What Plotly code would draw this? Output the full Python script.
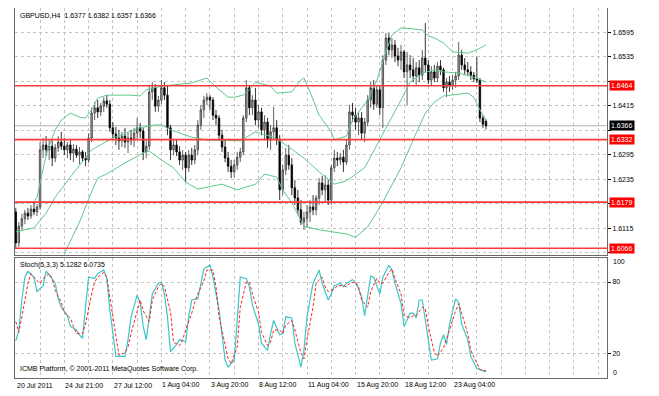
import plotly.graph_objects as go

# ---------------- data (GBPUSD H4) ----------------
open_ = [
    1.6155, 1.6079, 1.6120, 1.6138, 1.6152, 1.6145, 1.6162, 1.6155, 1.6167, 1.6307,
    1.6319, 1.6307, 1.6316, 1.6287, 1.6312, 1.6326, 1.6316, 1.6307, 1.6319, 1.6299,
    1.6309, 1.6294, 1.6302, 1.6287, 1.6282, 1.6336, 1.6397, 1.6410, 1.6400, 1.6414,
    1.6427, 1.6419, 1.6361, 1.6346, 1.6336, 1.6329, 1.6341, 1.6326, 1.6336, 1.6331,
    1.6348, 1.6361, 1.6353, 1.6302, 1.6316, 1.6449, 1.6459, 1.6414, 1.6429, 1.6459,
    1.6441, 1.6361, 1.6307, 1.6319, 1.6302, 1.6282, 1.6294, 1.6263, 1.6294, 1.6282,
    1.6307, 1.6368, 1.6405, 1.6429, 1.6436, 1.6429, 1.6392, 1.6385, 1.6343, 1.6314,
    1.6287, 1.6267, 1.6253, 1.6270, 1.6289, 1.6302, 1.6385, 1.6459, 1.6410, 1.6429,
    1.6380, 1.6400, 1.6356, 1.6375, 1.6331, 1.6351, 1.6361, 1.6331, 1.6209, 1.6258,
    1.6294, 1.6270, 1.6214, 1.6189, 1.6160, 1.6130, 1.6140, 1.6155, 1.6167, 1.6160,
    1.6189, 1.6226, 1.6209, 1.6221, 1.6184, 1.6263, 1.6287, 1.6282, 1.6289, 1.6277,
    1.6319, 1.6400, 1.6392, 1.6375, 1.6385, 1.6348, 1.6375, 1.6429, 1.6459, 1.6419,
    1.6454, 1.6410, 1.6527, 1.6581, 1.6552, 1.6564, 1.6537, 1.6527, 1.6547, 1.6498,
    1.6515, 1.6503, 1.6488, 1.6508, 1.6490, 1.6532, 1.6515, 1.6478, 1.6498, 1.6483,
    1.6512, 1.6503, 1.6459, 1.6473, 1.6466, 1.6478, 1.6488, 1.6539, 1.6515, 1.6503,
    1.6498, 1.6490, 1.6481, 1.6478, 1.6385, 1.6377,
]
high = [
    1.6165, 1.6130, 1.6150, 1.6160, 1.6165, 1.6172, 1.6177, 1.6174, 1.6326, 1.6336,
    1.6341, 1.6331, 1.6331, 1.6321, 1.6341, 1.6351, 1.6336, 1.6326, 1.6331, 1.6321,
    1.6319, 1.6314, 1.6307, 1.6302, 1.6348, 1.6410, 1.6424, 1.6429, 1.6422, 1.6436,
    1.6441, 1.6429, 1.6375, 1.6363, 1.6356, 1.6351, 1.6361, 1.6348, 1.6356, 1.6361,
    1.6385, 1.6373, 1.6361, 1.6331, 1.6466, 1.6473, 1.6468, 1.6439, 1.6478, 1.6473,
    1.6466, 1.6368, 1.6331, 1.6331, 1.6316, 1.6307, 1.6302, 1.6307, 1.6312, 1.6319,
    1.6380, 1.6417, 1.6439, 1.6446, 1.6441, 1.6436, 1.6405, 1.6392, 1.6356, 1.6331,
    1.6302, 1.6282, 1.6282, 1.6302, 1.6312, 1.6392, 1.6478, 1.6466, 1.6441, 1.6459,
    1.6417, 1.6410, 1.6392, 1.6385, 1.6368, 1.6412, 1.6380, 1.6343, 1.6270, 1.6312,
    1.6319, 1.6287, 1.6233, 1.6209, 1.6184, 1.6155, 1.6172, 1.6184, 1.6196, 1.6196,
    1.6238, 1.6243, 1.6245, 1.6233, 1.6270, 1.6307, 1.6302, 1.6299, 1.6307, 1.6331,
    1.6417, 1.6422, 1.6410, 1.6400, 1.6400, 1.6385, 1.6441, 1.6473, 1.6478, 1.6466,
    1.6466, 1.6539, 1.6593, 1.6593, 1.6581, 1.6576, 1.6557, 1.6564, 1.6552, 1.6547,
    1.6539, 1.6532, 1.6522, 1.6527, 1.6552, 1.6618, 1.6527, 1.6512, 1.6515, 1.6522,
    1.6527, 1.6508, 1.6483, 1.6488, 1.6490, 1.6498, 1.6571, 1.6552, 1.6532, 1.6522,
    1.6512, 1.6498, 1.6534, 1.6483, 1.6392, 1.6382,
]
low = [
    1.6067, 1.6069, 1.6111, 1.6125, 1.6135, 1.6138, 1.6147, 1.6145, 1.6160, 1.6287,
    1.6292, 1.6282, 1.6267, 1.6277, 1.6302, 1.6307, 1.6294, 1.6287, 1.6282, 1.6277,
    1.6287, 1.6272, 1.6277, 1.6267, 1.6275, 1.6326, 1.6380, 1.6385, 1.6390, 1.6400,
    1.6410, 1.6351, 1.6331, 1.6319, 1.6307, 1.6314, 1.6312, 1.6299, 1.6319, 1.6314,
    1.6331, 1.6336, 1.6282, 1.6287, 1.6307, 1.6429, 1.6400, 1.6400, 1.6419, 1.6429,
    1.6343, 1.6282, 1.6294, 1.6292, 1.6270, 1.6258, 1.6228, 1.6253, 1.6270, 1.6272,
    1.6294, 1.6356, 1.6385, 1.6417, 1.6405, 1.6380, 1.6368, 1.6331, 1.6302, 1.6277,
    1.6253, 1.6238, 1.6240, 1.6258, 1.6277, 1.6294, 1.6375, 1.6392, 1.6392, 1.6368,
    1.6361, 1.6343, 1.6331, 1.6312, 1.6307, 1.6331, 1.6319, 1.6184, 1.6196, 1.6245,
    1.6258, 1.6196, 1.6172, 1.6147, 1.6123, 1.6111, 1.6116, 1.6130, 1.6147, 1.6147,
    1.6172, 1.6196, 1.6179, 1.6172, 1.6172, 1.6253, 1.6267, 1.6270, 1.6253, 1.6270,
    1.6307, 1.6375, 1.6356, 1.6343, 1.6331, 1.6326, 1.6365, 1.6410, 1.6405, 1.6410,
    1.6392, 1.6361, 1.6515, 1.6539, 1.6532, 1.6522, 1.6512, 1.6503, 1.6483, 1.6417,
    1.6483, 1.6473, 1.6466, 1.6473, 1.6478, 1.6498, 1.6468, 1.6463, 1.6473, 1.6473,
    1.6490, 1.6449, 1.6436, 1.6449, 1.6454, 1.6459, 1.6478, 1.6503, 1.6490, 1.6488,
    1.6478, 1.6473, 1.6471, 1.6375, 1.6361, 1.6357,
]
close = [
    1.6079, 1.6120, 1.6138, 1.6152, 1.6145, 1.6162, 1.6155, 1.6167, 1.6307, 1.6319,
    1.6307, 1.6316, 1.6287, 1.6312, 1.6326, 1.6316, 1.6307, 1.6319, 1.6299, 1.6309,
    1.6294, 1.6302, 1.6287, 1.6282, 1.6336, 1.6397, 1.6410, 1.6400, 1.6414, 1.6427,
    1.6419, 1.6361, 1.6346, 1.6336, 1.6329, 1.6341, 1.6326, 1.6336, 1.6331, 1.6348,
    1.6361, 1.6353, 1.6302, 1.6316, 1.6449, 1.6459, 1.6414, 1.6429, 1.6459, 1.6441,
    1.6361, 1.6307, 1.6319, 1.6302, 1.6282, 1.6294, 1.6263, 1.6294, 1.6282, 1.6307,
    1.6368, 1.6405, 1.6429, 1.6436, 1.6429, 1.6392, 1.6385, 1.6343, 1.6314, 1.6287,
    1.6267, 1.6253, 1.6270, 1.6289, 1.6302, 1.6385, 1.6459, 1.6410, 1.6429, 1.6380,
    1.6400, 1.6356, 1.6375, 1.6331, 1.6351, 1.6361, 1.6331, 1.6209, 1.6258, 1.6294,
    1.6270, 1.6214, 1.6189, 1.6160, 1.6130, 1.6140, 1.6155, 1.6167, 1.6160, 1.6189,
    1.6226, 1.6209, 1.6221, 1.6184, 1.6263, 1.6287, 1.6282, 1.6289, 1.6277, 1.6319,
    1.6400, 1.6392, 1.6375, 1.6385, 1.6348, 1.6375, 1.6429, 1.6459, 1.6419, 1.6454,
    1.6410, 1.6527, 1.6581, 1.6552, 1.6564, 1.6537, 1.6527, 1.6547, 1.6498, 1.6515,
    1.6503, 1.6488, 1.6508, 1.6490, 1.6532, 1.6515, 1.6478, 1.6498, 1.6483, 1.6512,
    1.6503, 1.6459, 1.6473, 1.6466, 1.6478, 1.6488, 1.6539, 1.6515, 1.6503, 1.6498,
    1.6490, 1.6481, 1.6478, 1.6385, 1.6370, 1.6366,
]

# Bollinger bands (bar index, price)
bb_upper_idx = [0, 6, 7, 8, 10, 11, 13, 15, 18, 21, 23, 25, 27, 30, 38, 41, 43, 48, 52, 58,
                63, 66, 70, 72, 75, 77, 79, 84, 86, 91, 94, 95, 97, 100, 104, 105, 109, 111,
                116, 119, 122, 124, 127, 132, 134, 136, 138, 141, 144, 149, 152, 155]
bb_upper = [1.6177, 1.6179, 1.6191, 1.6228, 1.6294, 1.6316, 1.6356, 1.6380, 1.6397, 1.6387,
            1.6385, 1.6405, 1.6434, 1.6441, 1.6441, 1.6439, 1.6454, 1.6463, 1.6466, 1.6471,
            1.6483, 1.6461, 1.6436, 1.6436, 1.6441, 1.6454, 1.6473, 1.6463, 1.6446, 1.6449,
            1.6478, 1.6483, 1.6449, 1.6392, 1.6351, 1.6331, 1.6341, 1.6380, 1.6429, 1.6476,
            1.6547, 1.6588, 1.6606, 1.6603, 1.6601, 1.6586, 1.6581, 1.6569, 1.6547, 1.6544,
            1.6552, 1.6564]
bb_middle_idx = [0, 6, 10, 13, 19, 25, 32, 41, 46, 48, 51, 58, 63, 68, 74, 79, 85, 89, 95,
                 100, 105, 109, 115, 120, 122, 127, 130, 134, 138, 141, 146, 151, 155]
bb_middle = [1.6106, 1.6116, 1.6152, 1.6191, 1.6250, 1.6307, 1.6336, 1.6361, 1.6368, 1.6368,
             1.6356, 1.6338, 1.6331, 1.6331, 1.6329, 1.6351, 1.6338, 1.6319, 1.6287, 1.6253,
             1.6223, 1.6231, 1.6263, 1.6331, 1.6361, 1.6429, 1.6473, 1.6495, 1.6503, 1.6498,
             1.6495, 1.6485, 1.6473]
bb_lower_idx = [16, 21, 25, 27, 30, 36, 42, 44, 48, 52, 56, 60, 68, 73, 79, 82, 86, 88, 91,
                95, 100, 105, 109, 112, 116, 121, 127, 132, 135, 138, 141, 149, 151, 153, 155]
bb_lower = [1.6052, 1.6130, 1.6204, 1.6238, 1.6248, 1.6275, 1.6299, 1.6304, 1.6282, 1.6263,
            1.6228, 1.6211, 1.6223, 1.6209, 1.6223, 1.6248, 1.6240, 1.6209, 1.6177, 1.6120,
            1.6111, 1.6106, 1.6101, 1.6093, 1.6118, 1.6179, 1.6263, 1.6348, 1.6397, 1.6424,
            1.6439, 1.6446, 1.6436, 1.6405, 1.6380]

# Stochastic (5,3,3) (bar index, value)
stoch_k_idx = [0, 1, 2, 3, 4, 6, 7, 9, 10, 11, 13, 14, 15, 17, 18, 20, 21, 22, 23, 24,
               26, 27, 29, 30, 31, 33, 34, 36, 37, 38, 40, 41, 42, 43, 44, 45, 47, 48, 49, 50,
               51, 53, 54, 56, 57, 58, 60, 61, 62, 64, 65, 67, 68, 69, 70, 72, 73, 74, 76, 77,
               78, 80, 81, 83, 84, 85, 87, 88, 89, 91, 92, 94, 95, 96, 98, 100, 101, 103, 104, 105,
               107, 108, 109, 111, 112, 114, 115, 116, 117, 118, 120, 121, 123, 124, 125, 127, 128, 130, 131, 132,
               133, 134, 135, 136, 137, 139, 140, 141, 142, 143, 145, 146, 147, 149, 150, 152, 154, 155]
stoch_k = [31, 40, 65, 84, 89, 84, 72, 77, 89, 86, 79, 66, 59, 52, 43, 40, 36, 33, 59, 84,
           83, 87, 90, 83, 57, 18, 18, 18, 32, 51, 69, 63, 43, 32, 51, 70, 79, 80, 70, 51,
           22, 28, 32, 30, 51, 65, 66, 80, 91, 94, 84, 57, 37, 15, 9, 15, 48, 84, 83, 76,
           61, 45, 29, 23, 37, 48, 36, 37, 51, 50, 29, 9, 23, 51, 79, 90, 79, 65, 70, 77,
           79, 76, 79, 82, 80, 68, 52, 68, 85, 84, 70, 84, 94, 90, 79, 62, 43, 54, 54, 50,
           65, 65, 48, 32, 15, 16, 29, 36, 28, 45, 66, 63, 45, 32, 18, 8, 6, 5.1282]
stoch_d_idx = [0, 1, 2, 4, 5, 7, 8, 9, 11, 12, 13, 15, 16, 18, 19, 20, 22, 23, 25, 26,
               27, 29, 30, 31, 33, 34, 36, 37, 38, 40, 41, 42, 44, 45, 47, 48, 49, 51, 52, 54,
               55, 56, 58, 59, 60, 62, 63, 65, 66, 67, 69, 70, 71, 73, 74, 76, 77, 78, 80, 81,
               83, 84, 85, 87, 88, 89, 91, 92, 94, 95, 96, 98, 99, 101, 102, 103, 105, 106, 108, 109,
               110, 112, 113, 114, 116, 117, 119, 120, 121, 123, 124, 125, 127, 128, 130, 131, 132, 134, 135, 136,
               138, 139, 141, 142, 143, 145, 146, 147, 149, 150, 152, 153, 155]
stoch_d = [47, 38, 51, 79, 87, 81, 79, 83, 87, 83, 73, 63, 55, 50, 43, 37, 37, 45, 70, 80,
           84, 88, 84, 68, 37, 19, 21, 26, 37, 56, 65, 56, 47, 65, 76, 79, 76, 55, 30, 27,
           32, 40, 54, 63, 70, 81, 90, 90, 76, 51, 29, 16, 12, 26, 59, 80, 80, 70, 55, 38,
           27, 30, 40, 40, 37, 44, 48, 40, 21, 16, 32, 59, 79, 84, 76, 72, 74, 77, 77, 76,
           79, 80, 76, 65, 59, 72, 83, 79, 79, 88, 91, 83, 70, 52, 50, 52, 52, 59, 58, 43,
           21, 18, 25, 32, 40, 56, 62, 54, 37, 23, 12, 7, 6.0735]

# horizontal levels and labels
level_lines = [1.6464, 1.6332, 1.6179, 1.6066]
bid_price = 1.6366
price_ticks = [1.6055, 1.6115, 1.6175, 1.6235, 1.6295, 1.6355, 1.6415, 1.6475, 1.6535, 1.6595]
covered_ticks = [1.6055, 1.6175, 1.6355, 1.6475]   # hidden behind the price tags
grid_idx = list(range(8, 200, 8))
date_label_idx = [0, 16, 32, 48, 64, 80, 96, 112, 128, 144]
date_labels = ["20 Jul 2011", "24 Jul 21:00", "27 Jul 12:00", "1 Aug 04:00", "3 Aug 20:00",
               "8 Aug 12:00", "11 Aug 04:00", "15 Aug 20:00", "18 Aug 12:00", "23 Aug 04:00"]
title_text = "GBPUSD,H4  1.6377 1.6382 1.6357 1.6366"
stoch_text = "Stoch(5,3,3) 5.1282 6.0735"
copyright_text = "ICMB Platform, © 2001-2011 MetaQuotes Software Corp."

# ---------------- figure ----------------
FONT = "Liberation Sans, Arial, sans-serif"
GRID = "#c4c4c4"
FRAME = "#6a6a6a"
BAND = "#5ec98c"

bar_index = list(range(len(close)))
fig = go.Figure()

fig.add_trace(go.Candlestick(
    x=bar_index, open=open_, high=high, low=low, close=close,
    increasing=dict(line=dict(color="#3a3a3a", width=0.8), fillcolor="#a8a8a8"),
    decreasing=dict(line=dict(color="#000000", width=0.8), fillcolor="#000000"),
    whiskerwidth=0, showlegend=False, hoverinfo="skip", xaxis="x", yaxis="y"))

for idx, vals in ((bb_upper_idx, bb_upper), (bb_middle_idx, bb_middle), (bb_lower_idx, bb_lower)):
    fig.add_trace(go.Scatter(x=idx, y=vals, mode="lines", line=dict(color=BAND, width=1),
                             showlegend=False, hoverinfo="skip", xaxis="x", yaxis="y"))

fig.add_trace(go.Scatter(x=stoch_k_idx, y=stoch_k, mode="lines",
                         line=dict(color="#3cc6c6", width=1.2),
                         showlegend=False, hoverinfo="skip", xaxis="x2", yaxis="y2"))
fig.add_trace(go.Scatter(x=stoch_d_idx, y=stoch_d, mode="lines",
                         line=dict(color="#ff2020", width=1, dash="3px,2px"),
                         showlegend=False, hoverinfo="skip", xaxis="x2", yaxis="y2"))

shapes = [dict(type="line", xref="x domain", yref="y", x0=0, x1=1, y0=bid_price, y1=bid_price,
               line=dict(color="#b4b4b4", width=1), layer="below")]
for lv in level_lines:
    shapes.append(dict(type="line", xref="x domain", yref="y", x0=0, x1=1, y0=lv, y1=lv,
                       line=dict(color="#ff3838", width=1.6), layer="above"))

small = dict(family=FONT, size=7, color="#000000")
annotations = []
for lv in level_lines:
    annotations.append(dict(x=1, xref="paper", xanchor="left", xshift=2, y=lv, yref="y",
                            text=f"{lv:.4f}", showarrow=False, bgcolor="#ff0000",
                            font=dict(family=FONT, size=7, color="#ffffff"), borderpad=1))
annotations.append(dict(x=1, xref="paper", xanchor="left", xshift=2, y=bid_price, yref="y",
                        text=f"{bid_price:.4f}", showarrow=False, bgcolor="#000000",
                        font=dict(family=FONT, size=7, color="#ffffff"), borderpad=1))
annotations.append(dict(x=0.005, xref="paper", xanchor="left", y=0.981, yref="paper",
                        yanchor="middle", text=title_text, showarrow=False, font=small))
annotations.append(dict(x=0.005, xref="paper", xanchor="left", y=0.3054, yref="paper",
                        yanchor="middle", text=stoch_text, showarrow=False, font=small))
annotations.append(dict(x=0.005, xref="paper", xanchor="left", y=0.0243, yref="paper",
                        yanchor="middle", text=copyright_text, showarrow=False, font=small))
for lab_v, pos_v in (("100", 96.7), ("0", 4.2)):
    annotations.append(dict(x=1, xref="paper", xanchor="left", xshift=4, y=pos_v, yref="y2",
                            yanchor="middle", text=lab_v, showarrow=False, font=small))
for i, t in zip(date_label_idx, date_labels):
    annotations.append(dict(x=i, xref="x2", xanchor="left", xshift=-1, y=-0.019, yref="paper",
                            yanchor="middle", text=t, showarrow=False, font=small))

axis_common = dict(showline=True, mirror=True, linecolor=FRAME, linewidth=1, zeroline=False,
                   showgrid=True, gridcolor=GRID, griddash="3px,3px", gridwidth=1)
xr = [-0.26, 194.9]
# the page body adds an 8px margin, so the figure is 8px smaller and margins shifted
fig.update_layout(
    width=651, height=388,
    margin=dict(l=7, r=52, t=0, b=18),
    paper_bgcolor="#ffffff", plot_bgcolor="#ffffff",
    font=dict(family=FONT, size=7, color="#000000"),
    showlegend=False,
    xaxis=dict(domain=[0, 1], anchor="y", range=xr, tickvals=grid_idx, showticklabels=False,
               ticks="", rangeslider=dict(visible=False), **axis_common),
    xaxis2=dict(domain=[0, 1], anchor="y2", range=xr, tickvals=grid_idx, showticklabels=False,
                ticks="", matches="x", **axis_common),
    yaxis=dict(domain=[0.3324, 1], anchor="x", range=[1.60494, 1.66545], side="right",
               tickvals=price_ticks,
               ticktext=["" if p in covered_ticks else f"{p:.4f}" for p in price_ticks],
               ticks="outside", ticklen=3, tickcolor="#000000", tickfont=small, **axis_common),
    yaxis2=dict(domain=[0, 0.3243], anchor="x2", range=[0, 100], side="right",
                tickvals=[20, 80], ticktext=["20", "80"],
                ticks="outside", ticklen=3, tickcolor="#000000", tickfont=small, **axis_common),
    shapes=shapes,
    annotations=annotations,
)

fig.write_html("out.html")
